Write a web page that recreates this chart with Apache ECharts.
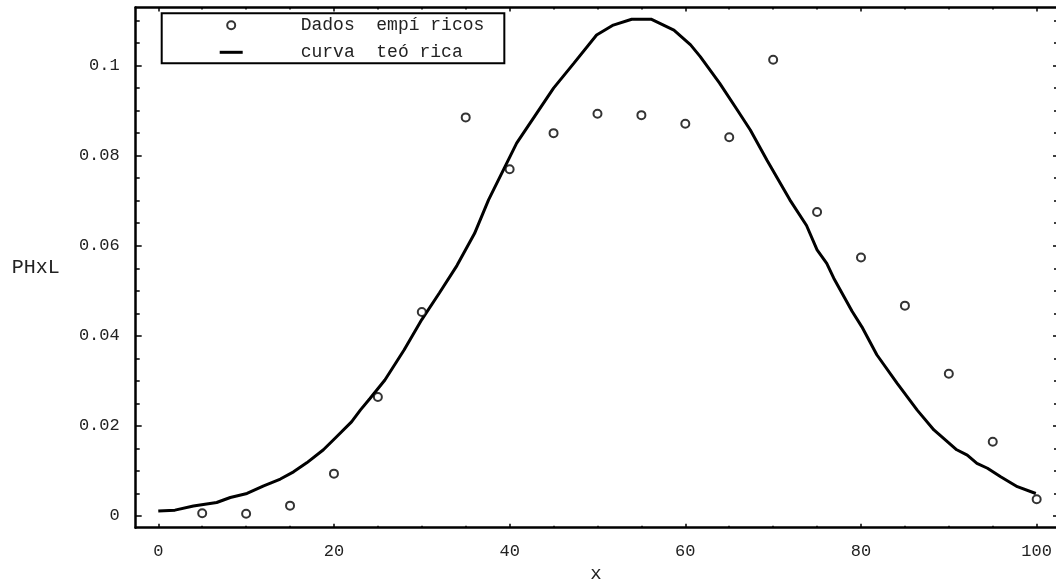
<!DOCTYPE html>
<html>
<head>
<meta charset="utf-8">
<script src="https://cdn.jsdelivr.net/npm/echarts@6/dist/echarts.min.js"></script>
<style>html,body{margin:0;padding:0;background:#fff}#c{width:1056px;height:580px}</style>
</head>
<body>
<div id="c"></div>
<script>
const empX = [5,10,15,20,25,30,35,40,45,50,55,60,65,70,75,80,85,90,95,100];
const empY = [0.0006,0.0005,0.0023,0.0094,0.0264,0.0453,0.0885,0.0770,0.0850,0.0893,0.0890,0.0871,0.0841,0.1013,0.0675,0.0574,0.0467,0.0316,0.0165,0.0037];
const curveX = [0,1.9,4.0,6.65,8.2,10.1,12.0,13.9,15.4,16.9,18.8,20.3,22.0,23.0,24.1,25.8,28,30,32,34,36,37.6,40.8,45,47.3,49.9,51.8,53.9,56.1,58.7,60.6,61.7,63.9,65.9,67.4,69.3,71.9,73.8,75,76.1,76.9,79,80.1,81.8,84.1,86.4,88.3,90.9,92.1,93.2,94.4,95.9,97.8,99.9];
const curveY = [0.0011,0.0013,0.0022,0.0030,0.0041,0.0050,0.0067,0.0082,0.0098,0.0118,0.0147,0.0176,0.0209,0.0235,0.0261,0.0302,0.0369,0.0436,0.0495,0.0556,0.0627,0.0702,0.0828,0.0950,0.1005,0.1068,0.1090,0.1103,0.1103,0.1079,0.1046,0.1020,0.0961,0.0902,0.0857,0.0790,0.0702,0.0645,0.0591,0.0561,0.0528,0.0454,0.0420,0.0358,0.0295,0.0235,0.0191,0.0147,0.0135,0.0117,0.0106,0.0087,0.0065,0.0050];
const xMajor = [0,20,40,60,80,100];
const xMinor = [5,10,15,25,30,35,45,50,55,65,70,75,85,90,95];
const yMajor = [0,0.02,0.04,0.06,0.08,0.1];
const yMinor = [0.005,0.01,0.015,0.025,0.03,0.035,0.045,0.05,0.055,0.065,0.07,0.075,0.085,0.09,0.095,0.105,0.11];
const nameEmp = 'Dados  empí ricos';
const nameCurve = 'curva  teó rica';

const FONT = 'Liberation Mono';
const XMIN = -2.57, XMAX = 102.2, YMIN = -0.0026, YMAX = 0.1129;
const fmtY = v => String(parseFloat((+v).toFixed(4)));

function xAx(pos, vals, len, opts) {
  return Object.assign({
    type: 'value', position: pos, min: XMIN, max: XMAX,
    splitLine: {show: false},
    axisLine: {show: false, onZero: false},
    axisTick: {show: true, inside: true, length: len, customValues: vals, lineStyle: {color: '#000', width: 1.5}},
    axisLabel: {show: false}
  }, opts || {});
}
function yAx(pos, vals, len, opts) {
  return Object.assign({
    type: 'value', position: pos, min: YMIN, max: YMAX,
    splitLine: {show: false},
    axisLine: {show: false, onZero: false},
    axisTick: {show: true, inside: true, length: len, customValues: vals, lineStyle: {color: '#000', width: 1.5}},
    axisLabel: {show: false}
  }, opts || {});
}
const solidLine = {show: true, onZero: false, lineStyle: {color: '#000', width: 2.5}};

const chart = echarts.init(document.getElementById('c'), null, {renderer: 'canvas'});
chart.setOption({
  animation: false,
  backgroundColor: '#fff',
  grid: {left: 135.7, right: 0, top: 7.5, bottom: 52.3, containLabel: false, outerBoundsMode: 'none'},
  legend: {
    orient: 'vertical', left: 161.7, top: 13.3,
    padding: [2, 20, 1, 58],
    borderColor: '#000', borderWidth: 2,
    itemWidth: 23, itemHeight: 8, itemGap: 7,
    textStyle: {fontFamily: FONT, fontSize: 18, color: '#222', lineHeight: 20, padding: [0, 0, 0, 53]},
    data: [nameEmp, {name: nameCurve, icon: 'path://M0 0L23 0L23 3L0 3Z'}]
  },
  xAxis: [
    xAx('bottom', xMajor, 4, {
      axisLine: solidLine,
      axisLabel: {show: true, customValues: xMajor, margin: 15, fontFamily: FONT, fontSize: 17, color: '#222'},
      name: 'x', nameLocation: 'middle', nameGap: 29,
      nameTextStyle: {fontFamily: FONT, fontSize: 19, color: '#222'}
    }),
    xAx('bottom', xMinor, 2),
    xAx('top', xMajor, 4, {axisLine: solidLine}),
    xAx('top', xMinor, 2)
  ],
  yAxis: [
    yAx('left', yMajor, 6, {
      axisLine: solidLine,
      axisLabel: {show: true, customValues: yMajor, margin: 16, fontFamily: FONT, fontSize: 17, color: '#222', formatter: fmtY},
      name: 'PHxL', nameLocation: 'middle', nameGap: 76, nameRotate: 0,
      nameTextStyle: {fontFamily: FONT, fontSize: 20, color: '#222'}
    }),
    yAx('left', yMinor, 4),
    yAx('right', yMajor, 3),
    yAx('right', yMinor, 2)
  ],
  series: [
    {
      name: nameEmp, type: 'scatter', xAxisIndex: 0, yAxisIndex: 0,
      symbol: 'circle', symbolSize: 8,
      itemStyle: {color: '#fff', borderColor: '#000', borderWidth: 2},
      data: empX.map((x, i) => [x, empY[i]]),
      z: 3
    },
    {
      name: nameCurve, type: 'line', xAxisIndex: 0, yAxisIndex: 0,
      symbol: 'none', smooth: false,
      lineStyle: {color: '#000', width: 3},
      itemStyle: {color: '#000'},
      data: curveX.map((x, i) => [x, curveY[i]]),
      z: 2
    }
  ]
});
</script>
</body>
</html>
